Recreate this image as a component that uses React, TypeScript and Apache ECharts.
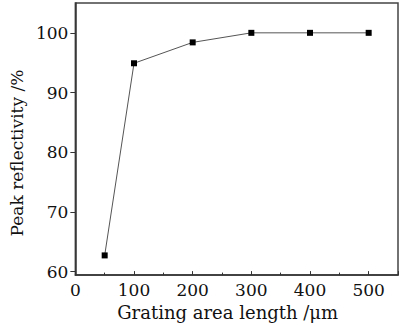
import React, { useEffect, useRef } from "react";
import * as echarts from "echarts";

const lengths = [50, 100, 200, 300, 400, 500];
const reflectivity = [62.7, 94.9, 98.4, 100, 100, 100];
const xTicks = [0, 100, 200, 300, 400, 500];

export default function App() {
  const ref = useRef<HTMLDivElement>(null);
  useEffect(() => {
    const chart = echarts.init(ref.current!, undefined, { renderer: "svg" });
    const font = "DejaVu Serif";
    chart.setOption({
      animation: false,
      backgroundColor: "#fff",
      grid: {
        left: 72,
        top: 3,
        right: 1,
        bottom: 50,
        show: true,
        borderColor: "#444",
        borderWidth: 1.5,
      },
      xAxis: {
        type: "value",
        min: 0,
        max: 550,
        interval: 100,
        name: "Grating area length /\u03bcm",
        nameLocation: "middle",
        nameGap: 27,
        nameTextStyle: { fontFamily: font, fontSize: 18, color: "#111", padding: [0, 18, 0, 0] },
        axisLine: { lineStyle: { color: "#333", width: 1.5 } },
        axisTick: { inside: true, length: 4, lineStyle: { color: "#333" } },
        minorTick: { show: true, splitNumber: 2, length: 2.5, lineStyle: { color: "#333" } },
        splitLine: { show: false },
        axisLabel: {
          fontFamily: font,
          fontSize: 17,
          color: "#111",
          margin: 6,
          showMaxLabel: false,
          formatter: (v: number) => (xTicks.includes(v) ? String(v) : ""),
        },
      },
      yAxis: {
        type: "value",
        min: 59.4,
        max: 105,
        name: "Peak reflectivity /%",
        nameLocation: "middle",
        nameGap: 45,
        nameRotate: 90,
        nameTextStyle: { fontFamily: font, fontSize: 17, color: "#111", padding: [0, 28, 0, 0] },
        axisLine: { lineStyle: { color: "#333", width: 1.5 } },
        axisTick: { inside: false, length: 5, lineStyle: { color: "#333" } },
        splitLine: { show: false },
        axisLabel: {
          fontFamily: font,
          fontSize: 17,
          color: "#111",
          margin: 7,
          showMinLabel: false,
          showMaxLabel: false,
          formatter: (v: number) => (v % 10 === 0 ? String(v) : ""),
        },
      },
      series: [
        {
          type: "line",
          data: lengths.map((x, i) => [x, reflectivity[i]]),
          symbol: "rect",
          symbolSize: 6,
          itemStyle: { color: "#000" },
          lineStyle: { color: "#555", width: 1 },
        },
      ],
    });
    return () => chart.dispose();
  }, []);
  return (
    <div
      ref={ref}
      style={{ position: "fixed", left: 0, top: 0, width: 399, height: 326 }}
    />
  );
}
